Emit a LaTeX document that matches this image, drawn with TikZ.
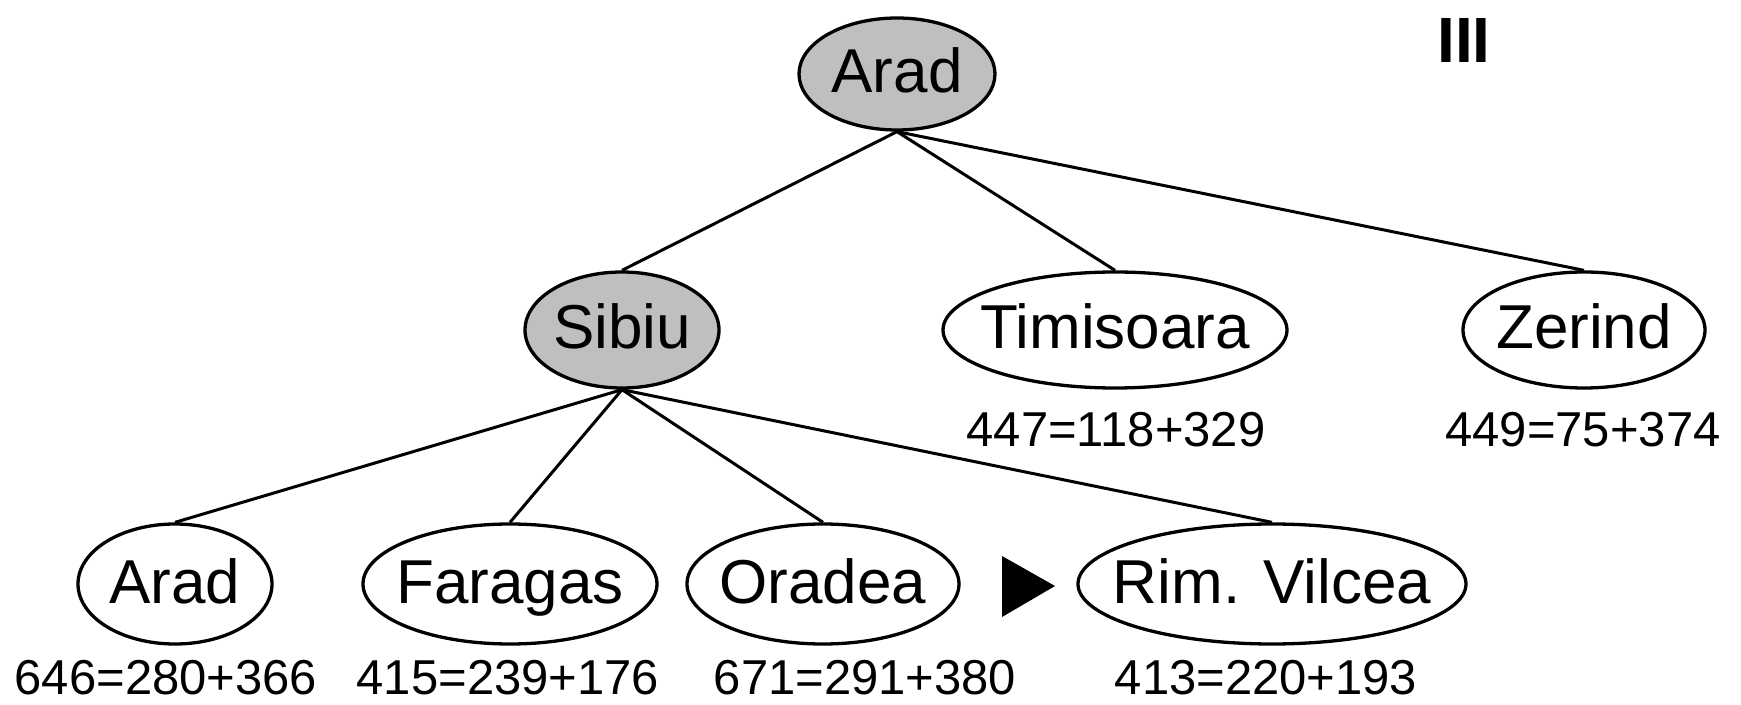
\documentclass[tikz,border=0pt]{standalone}
\usepackage{fontspec}
\setmainfont{Liberation Sans}
\usetikzlibrary{shapes.geometric}
% zero-width name box, so the ellipse takes its size from the style alone
\newcommand{\cityname}[1]{\makebox[0pt]{\raisebox{1.5pt}{#1}}}
\begin{document}
\begin{tikzpicture}[x=0.5pt,y=-0.5pt,
  city/.style={ellipse,draw=black,line width=1.65pt,inner sep=0pt,
    text height=22pt,text depth=0pt,
    font=\fontsize{31}{31}\selectfont,minimum height=58pt},
  leaf/.style={city,minimum height=60pt},
  expanded/.style={city,fill=black!25},
  cost/.style={font=\fontsize{24.5}{24.5}\selectfont,inner sep=0pt},
  link/.style={line width=1.5pt}]
\useasboundingbox (0,0) rectangle (1741,705);

% root and first level
\node[expanded,minimum width=98pt,minimum height=56pt] (arad) at (897,74) {\cityname{Arad}};
\node[expanded,minimum width=97pt] (sibiu) at (622,330) {\cityname{Sibiu}};
\node[city,minimum width=172pt] (timisoara) at (1115,330) {\cityname{Timisoara}};
\node[city,minimum width=121pt] (zerind) at (1584,330) {\cityname{Zerind}};

% second level below Sibiu
\node[leaf,minimum width=97pt] (arad2) at (175,584) {\cityname{Arad}};
\node[leaf,minimum width=147pt] (faragas) at (510,584) {\cityname{Faragas}};
\node[leaf,minimum width=136pt] (oradea) at (823,584) {\cityname{Oradea}};
\node[leaf,minimum width=194pt] (rimvilcea) at (1272,584) {\cityname{Rim. Vilcea}};

% f = g + h values
\node[cost] (ctim) at (1116,430) {447=118+329};
\node[cost] (czer) at (1583,430) {449=75+374};
\node[cost] (carad) at (166,678) {646=280+366};
\node[cost] (cfar) at (508,678) {415=239+176};
\node[cost] (cora) at (865,678) {671=291+380};
\node[cost] (crim) at (1266,678) {413=220+193};

% step label
\node[font=\bfseries\fontsize{32}{32}\selectfont,inner sep=0pt] (step) at (1464,40) {III};

% tree edges
\draw[link] (arad.south) -- (sibiu.north);
\draw[link] (arad.south) -- (timisoara.north);
\draw[link] (arad.south) -- (zerind.north);
\draw[link] (sibiu.south) -- (arad2.north);
\draw[link] (sibiu.south) -- (faragas.north);
\draw[link] (sibiu.south) -- (oradea.north);
\draw[link] (sibiu.south) -- (rimvilcea.north);

% pointer to the next node to expand
\fill[black] (1002,556) -- (1002,617) -- (1055,586) -- cycle;
\end{tikzpicture}
\end{document}
